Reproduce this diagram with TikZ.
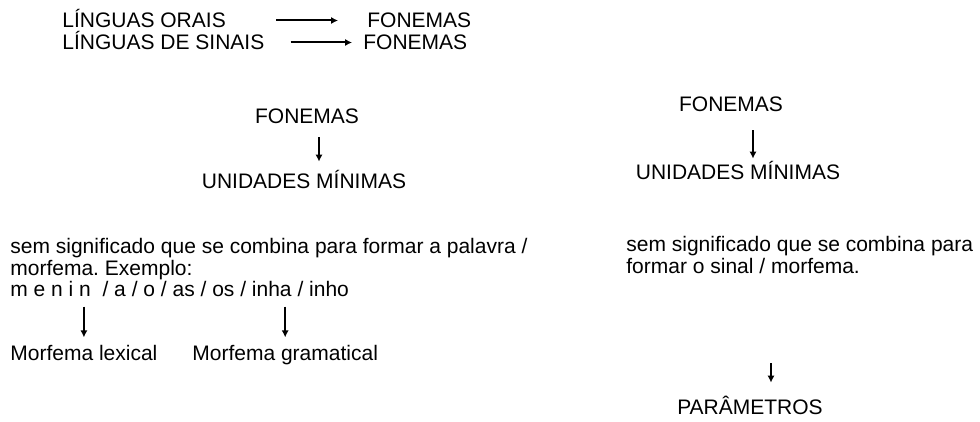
\documentclass[tikz,border=0pt]{standalone}
\usepackage{fontspec}
\setmainfont{Liberation Sans}
\usetikzlibrary{arrows.meta}
\frenchspacing
\tikzset{
  txt/.style={inner sep=0pt,anchor=base west,font=\fontsize{10.5}{11.1}\selectfont},
  caps/.style={txt,text height=7.5pt,text depth=0pt},
  arr/.style={line width=1pt,-{Latex[length=3.5pt,width=3.6pt]}}
}
\begin{document}
\begin{tikzpicture}[x=0.5pt,y=-0.5pt]
\useasboundingbox (0,0) rectangle (980,422);
\node[caps] (oral) at (62,28) {LÍNGUAS ORAIS};
\node[caps] (fonOral) at (367,28) {FONEMAS};
\node[caps] (sinais) at (62,50) {LÍNGUAS DE SINAIS};
\node[caps] (fonSinais) at (363,50) {FONEMAS};
\draw[arr,shorten <=25pt,shorten >=14.5pt] (oral.east) -- (oral.east -| fonOral.west);
\draw[arr,shorten <=13pt,shorten >=5.5pt] (sinais.east) -- (sinais.east -| fonSinais.west);

\node[caps,anchor=base] (fonL) at (307,124) {FONEMAS};
\node[caps,anchor=base] (unidL) at (304,189) {UNIDADES MÍNIMAS};
\draw[arr,shorten <=6.5pt,shorten >=6pt] ([xshift=6pt]fonL.south) -- ([xshift=6pt]fonL.south |- unidL.north);
\node[caps,anchor=base] (fonR) at (731,112) {FONEMAS};
\node[caps,anchor=base] (unidR) at (738,180) {UNIDADES MÍNIMAS};
\draw[arr,shorten <=9pt,shorten >=3pt] ([xshift=11pt]fonR.south) -- ([xshift=11pt]fonR.south |- unidR.north);

\node[txt,anchor=north west,align=left] (defL) at (10,238) {sem significado que se combina para formar a palavra /\\morfema. Exemplo:};
\node[txt] (exemplo) at (10,297) {m e n i n \ / a / o / as / os / inha / inho};
\node[txt] (lex) at (10,360) {Morfema lexical};
\node[txt] (gram) at (192,360) {Morfema gramatical};
\foreach \m in {lex,gram} \draw[arr,shorten <=4.5pt,shorten >=3.5pt] (\m.north |- exemplo.south) -- (\m.north);

\node[txt,anchor=north west,align=left] (defR) at (626,236) {sem significado que se combina para\\formar o sinal / morfema.};
\node[caps,anchor=base] (param) at (750,415) {PARÂMETROS};
\coordinate (paramTop) at (771,363);
\draw[arr,shorten >=8.5pt] (paramTop) -- (paramTop |- param.north);
\end{tikzpicture}
\end{document}
